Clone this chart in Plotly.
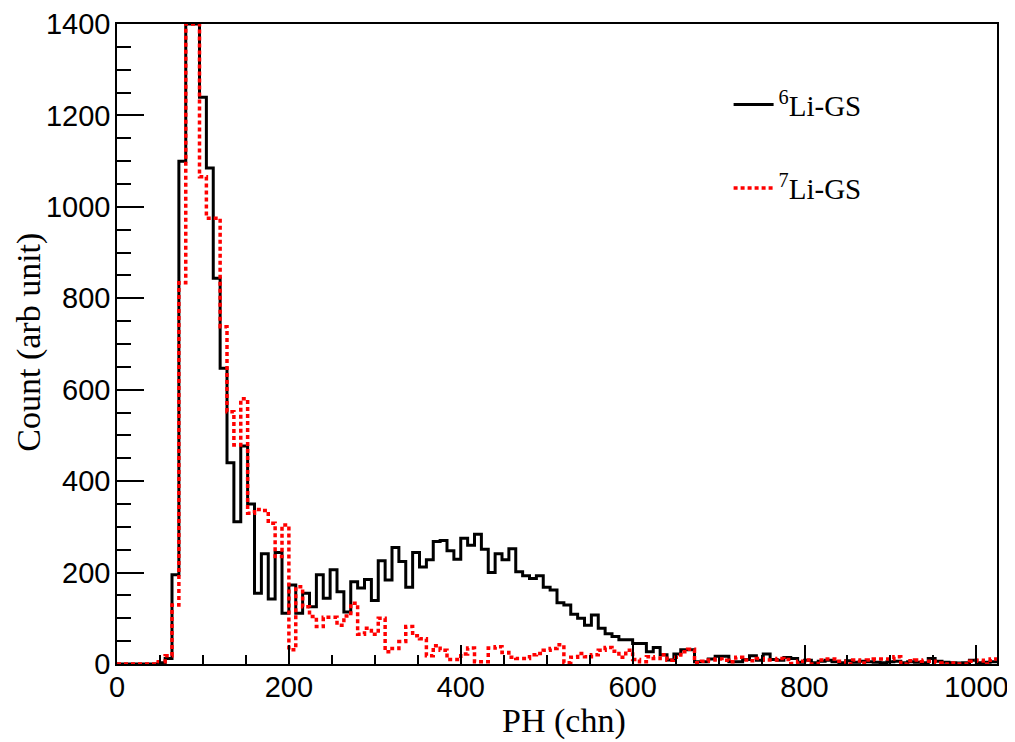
import plotly.graph_objects as go

# Histogram: 128 bins of width 8 channels, 0..1024
bin_width = 8
n_bins = 128
bin_edges = [i * bin_width for i in range(n_bins + 1)]

li6_gs = [
    0, 0, 0, 0, 0, 0, 3, 12, 195, 1100,
    1400, 1400, 1240, 1085, 844, 647, 440, 311, 477, 350,
    155, 241, 142, 244, 111, 173, 111, 155, 125, 195,
    144, 206, 158, 114, 180, 166, 185, 139, 226, 184,
    255, 224, 168, 244, 212, 228, 268, 270, 248, 229,
    275, 260, 284, 251, 200, 241, 228, 252, 202, 193,
    187, 193, 168, 162, 134, 129, 109, 100, 85, 107,
    78, 66, 60, 53, 53, 45, 45, 27, 36, 20,
    9, 22, 31, 31, 5, 5, 11, 17, 17, 5,
    5, 10, 18, 8, 22, 10, 8, 14, 12, 4,
    8, 3, 6, 8, 5, 3, 7, 4, 6, 5,
    4, 3, 5, 6, 3, 5, 4, 3, 12, 6,
    4, 3, 2, 3, 8, 3, 4, 5,
]

li7_gs = [
    0, 0, 0, 0, 0, 0, 5, 18, 129, 834,
    1400, 1400, 1066, 975, 975, 738, 552, 479, 580, 330,
    338, 336, 308, 235, 304, 31, 169, 125, 104, 82,
    102, 102, 85, 105, 133, 65, 78, 65, 100, 27,
    34, 49, 82, 62, 55, 18, 40, 30, 10, 10,
    22, 35, 5, 5, 35, 38, 25, 15, 12, 12,
    20, 23, 30, 34, 42, 3, 15, 23, 16, 20,
    30, 36, 28, 15, 30, 10, 5, 16, 12, 20,
    8, 15, 27, 32, 3, 6, 9, 11, 8, 5,
    15, 9, 7, 12, 9, 9, 12, 10, 1, 6,
    9, 0, 9, 11, 11, 6, 0, 9, 2, 9,
    11, 11, 11, 16, 0, 7, 9, 6, 6, 2,
    0, 2, 0, 0, 6, 8, 0, 11,
]

x_ticks = [0, 200, 400, 600, 800, 1000]
y_ticks = [0, 200, 400, 600, 800, 1000, 1200, 1400]

x_title = "PH (chn)"
y_title = "Count (arb unit)"
names = ["<sup>6</sup>Li-GS", "<sup>7</sup>Li-GS"]

TICK_FONT = dict(family="Liberation Sans, Arial, sans-serif", size=29, color="black")
SERIF = "Liberation Serif, Times New Roman, serif"

fig = go.Figure()
fig.add_trace(go.Scatter(
    x=bin_edges, y=li6_gs + [li6_gs[-1]],
    mode="lines", line=dict(shape="hv", color="black", width=3),
    name=names[0], legendgroup="a",
))
fig.add_trace(go.Scatter(
    x=bin_edges, y=li7_gs + [li7_gs[-1]],
    mode="lines", line=dict(shape="hv", color="#ff0000", width=3.5, dash="4px,3px"),
    name=names[1], legendgroup="b",
))

# page body has an 8px margin, so the figure is sized to fit the window
fig.update_layout(
    width=1007, height=734,
    paper_bgcolor="white", plot_bgcolor="white",
    margin=dict(l=109, r=18, t=16, b=78, autoexpand=False),
    showlegend=True,
    legend=dict(
        x=0.695, y=0.914, xanchor="left", yanchor="top",
        font=dict(family=SERIF, size=29, color="black"),
        bgcolor="rgba(0,0,0,0)", tracegroupgap=43,
        itemwidth=40,
    ),
    annotations=[
        dict(text=x_title, xref="paper", yref="paper", x=0.508, y=-0.089,
             xanchor="center", yanchor="middle", showarrow=False,
             font=dict(family=SERIF, size=34, color="black")),
        dict(text=y_title, xref="paper", yref="paper", x=-0.1, y=0.502,
             xanchor="center", yanchor="middle", showarrow=False, textangle=-90,
             font=dict(family=SERIF, size=34, color="black")),
    ],
)
fig.update_xaxes(
    range=[0, 1024], tickvals=x_ticks, ticktext=[str(v) for v in x_ticks],
    ticks="inside", ticklen=19, tickwidth=1.5, tickcolor="black",
    minor=dict(dtick=50, tick0=0, ticks="inside", ticklen=9, tickwidth=1.5, tickcolor="black"),
    showline=True, linecolor="black", linewidth=1.5, mirror=True,
    showgrid=False, zeroline=False, tickfont=TICK_FONT, ticklabelstandoff=-4,
    automargin=False,
)
fig.update_yaxes(
    range=[0, 1400], tickvals=y_ticks, ticktext=[str(v) for v in y_ticks],
    ticks="inside", ticklen=27, tickwidth=1.5, tickcolor="black",
    minor=dict(dtick=50, tick0=0, ticks="inside", ticklen=14, tickwidth=1.5, tickcolor="black"),
    showline=True, linecolor="black", linewidth=1.5, mirror=True,
    showgrid=False, zeroline=False, tickfont=TICK_FONT, ticklabelstandoff=-1,
    automargin=False,
)

fig.write_html("out.html")
